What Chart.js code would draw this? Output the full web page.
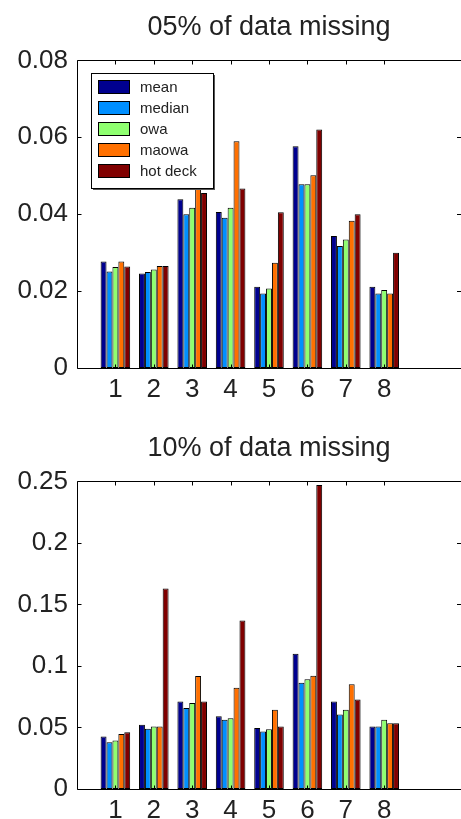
<!DOCTYPE html>
<html>
<head>
<meta charset="utf-8">
<script src="https://cdn.jsdelivr.net/npm/chart.js@4"></script>
<style>
	html, body { margin: 0; width: 461px; height: 819px; overflow: hidden; background: #fff; }
	.panel { position: absolute; left: 0; width: 461px; overflow: hidden; }
	canvas { display: block; }
</style>
</head>
<body>
<div class="panel" style="top: 0; height: 420px"><canvas id="chart05" width="461" height="420"></canvas></div>
<div class="panel" style="top: 421px; height: 398px"><canvas id="chart10" width="461" height="420"></canvas></div>
<script>
const CATEGORIES = [1, 2, 3, 4, 5, 6, 7, 8]
const METHODS = ['mean', 'median', 'owa', 'maowa', 'hot deck']

// 05% of data missing
const mean05 = [0.0277, 0.0246, 0.0439, 0.0406, 0.0211, 0.0577, 0.0343, 0.0211]
const median05 = [0.0251, 0.0250, 0.0400, 0.0391, 0.0194, 0.0478, 0.0317, 0.0194]
const owa05 = [0.0263, 0.0256, 0.0417, 0.0417, 0.0207, 0.0478, 0.0334, 0.0203]
const maowa05 = [0.0277, 0.0265, 0.0480, 0.0590, 0.0274, 0.0501, 0.0383, 0.0194]
const hotdeck05 = [0.0264, 0.0265, 0.0455, 0.0467, 0.0405, 0.0620, 0.0400, 0.0300]
const yTicks05 = [0, 0.02, 0.04, 0.06, 0.08]

// 10% of data missing
const mean10 = [0.0427, 0.0522, 0.0712, 0.0592, 0.0495, 0.110, 0.0712, 0.0508]
const median10 = [0.0380, 0.0489, 0.0658, 0.0563, 0.0467, 0.0864, 0.0606, 0.0508]
const owa10 = [0.0394, 0.0508, 0.0698, 0.0576, 0.0486, 0.0891, 0.0644, 0.0563]
const maowa10 = [0.0448, 0.0508, 0.0918, 0.0823, 0.0644, 0.0921, 0.0851, 0.0535]
const hotdeck10 = [0.0462, 0.163, 0.0712, 0.137, 0.0508, 0.247, 0.0728, 0.0535]
const yTicks10 = [0, 0.05, 0.1, 0.15, 0.2, 0.25]

const X_RANGE = [0, 10]

// jet colormap, five samples
const COLORS = ['#00008f', '#008fff', '#8fff70', '#ff7000', '#800000']
const TEXT = '#222'
const FONT = '"Liberation Sans", Arial, sans-serif'

Chart.defaults.font.family = FONT
Chart.defaults.color = TEXT

// Matlab style axes: left, top and bottom lines, inward ticks on every side
// (the right edge of the box falls just outside the picture)
const axisBox = {
	id: 'axisBox',
	afterDatasetsDraw(chart) {
		const { ctx, chartArea: a, scales } = chart
		const len = 4
		const l = Math.round(a.left) + 0.5
		const t = Math.round(a.top) + 0.5
		const b = Math.round(a.bottom) + 0.5
		const r = a.right
		ctx.save()
		ctx.strokeStyle = '#000'
		ctx.lineWidth = 1
		ctx.beginPath()
		ctx.moveTo(r, t); ctx.lineTo(l, t); ctx.lineTo(l, b); ctx.lineTo(r, b)
		for (const tick of scales.x.ticks) {
			const px = Math.round(scales.x.getPixelForValue(tick.value)) + 0.5
			ctx.moveTo(px, b); ctx.lineTo(px, b - len)
			ctx.moveTo(px, t); ctx.lineTo(px, t + len)
		}
		for (const tick of scales.y.ticks) {
			const py = Math.round(scales.y.getPixelForValue(tick.value)) + 0.5
			ctx.moveTo(l, py); ctx.lineTo(l + len, py)
			ctx.moveTo(r, py); ctx.lineTo(r - len, py)
		}
		ctx.stroke()
		ctx.restore()
	}
}

// legend drawn inside the axes, top left
const innerLegend = {
	id: 'innerLegend',
	afterDraw(chart, args, opts) {
		if (!opts.show) {
			return
		}
		const { ctx, chartArea: a } = chart
		const x = Math.round(a.left) + 14
		const y = Math.round(a.top) + 13
		const w = 122
		const h = 115
		ctx.save()
		ctx.fillStyle = '#555'
		ctx.fillRect(x + 2, y + 2, w, h)
		ctx.fillStyle = '#fff'
		ctx.fillRect(x, y, w, h)
		ctx.strokeStyle = '#000'
		ctx.lineWidth = 1
		ctx.strokeRect(x + 0.5, y + 0.5, w, h)
		ctx.font = '15px ' + FONT
		ctx.textBaseline = 'middle'
		chart.data.datasets.forEach(function(ds, i) {
			const sy = y + 7 + i * 21
			ctx.fillStyle = ds.backgroundColor
			ctx.fillRect(x + 7, sy, 32, 14)
			ctx.strokeRect(x + 7.5, sy + 0.5, 31, 13)
			ctx.fillStyle = TEXT
			ctx.fillText(ds.label, x + 49, sy + 8)
		})
		ctx.restore()
	}
}

function fmt(v) {
	return String(+Number(v).toFixed(4))
}

function makeChart(id, title, series, yTicks, showLegend) {
	return new Chart(document.getElementById(id), {
		type: 'bar',
		data: {
			datasets: series.map(function(values, i) {
				return {
					label: METHODS[i],
					data: values.map((v, j) => ({ x: CATEGORIES[j], y: v })),
					backgroundColor: COLORS[i],
					borderColor: '#000',
					borderWidth: 1,
					borderSkipped: false,
					categoryPercentage: 0.77,
					barPercentage: 1
				}
			})
		},
		options: {
			responsive: false,
			animation: false,
			layout: { padding: 0 },
			plugins: {
				legend: { display: false },
				tooltip: { enabled: false },
				title: {
					display: true,
					text: title,
					fullSize: false,
					color: TEXT,
					font: { size: 27, weight: 'normal' },
					padding: { top: 11, bottom: 17 }
				},
				innerLegend: { show: showLegend }
			},
			scales: {
				x: {
					type: 'linear',
					min: X_RANGE[0],
					max: X_RANGE[1],
					offset: false,
					grid: { display: false, drawTicks: false },
					border: { display: false },
					afterBuildTicks: s => { s.ticks = CATEGORIES.map(value => ({ value })) },
					afterFit: s => { s.height = 52 },
					ticks: { font: { size: 26 }, padding: 6, maxRotation: 0, callback: fmt }
				},
				y: {
					min: yTicks[0],
					max: yTicks[yTicks.length - 1],
					grid: { display: false, drawTicks: false },
					border: { display: false },
					afterBuildTicks: s => { s.ticks = yTicks.map(value => ({ value })) },
					afterFit: s => { s.width = 77 },
					ticks: { font: { size: 26 }, padding: 9, callback: fmt }
				}
			}
		},
		plugins: [axisBox, innerLegend]
	})
}

makeChart('chart05', '05% of data missing',
	[mean05, median05, owa05, maowa05, hotdeck05], yTicks05, true)
makeChart('chart10', '10% of data missing',
	[mean10, median10, owa10, maowa10, hotdeck10], yTicks10, false)
</script>
</body>
</html>
